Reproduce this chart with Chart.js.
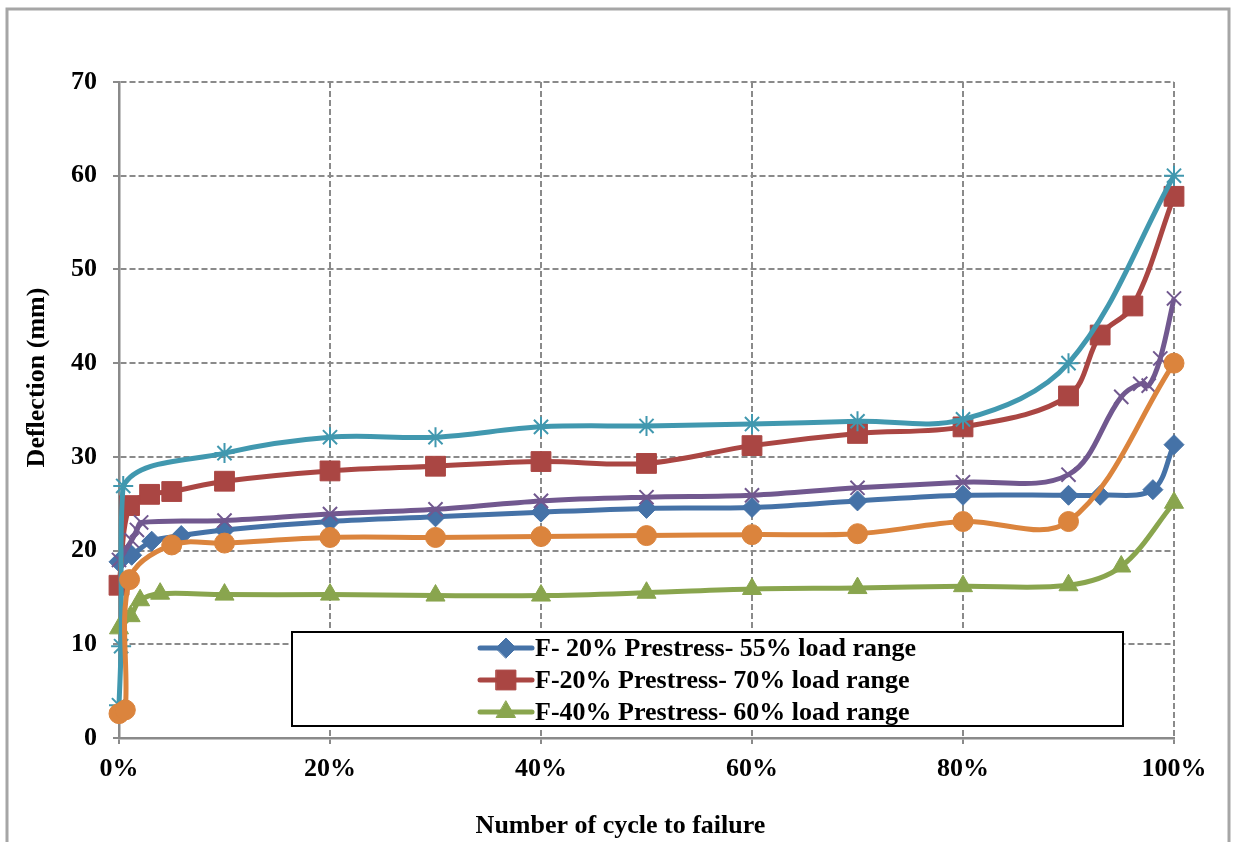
<!DOCTYPE html>
<html><head><meta charset="utf-8">
<script src="https://cdn.jsdelivr.net/npm/chart.js@4.4.0/dist/chart.umd.min.js"></script>
<style>html,body{margin:0;padding:0;background:#fff;}#wrap{width:1236px;height:842px;}</style>
</head><body><div id="wrap"><canvas id="c" width="1236" height="842"></canvas></div>
<script>
// ---- data ----
const xTickValues = [0, 20, 40, 60, 80, 100];
const yTickValues = [0, 10, 20, 30, 40, 50, 60, 70];
const xTitle = 'Number of cycle to failure';
const yTitle = 'Deflection (mm)';
const legendLabels = ['F- 20% Prestress- 55% load range', 'F-20% Prestress- 70% load range', 'F-40% Prestress- 60% load range'];
const seriesNames = ['F- 20% Prestress- 55% load range', 'F-20% Prestress- 70% load range', 'F-40% Prestress- 60% load range', 'Series 4', 'Series 5', 'Series 6'];

const xBlue = [0, 1.2, 3.1, 5.9, 10, 20, 30, 40, 50, 60, 70, 80, 90, 93, 98, 100];
const yBlue = [18.8, 19.5, 21.0, 21.6, 22.2, 23.1, 23.6, 24.1, 24.5, 24.6, 25.3, 25.9, 25.9, 25.9, 26.5, 31.3];

const xRed = [0, 1, 2.9, 5, 10, 20, 30, 40, 50, 60, 70, 80, 90, 93, 96.1, 100];
const yRed = [16.3, 24.8, 26.0, 26.3, 27.4, 28.5, 29.0, 29.5, 29.3, 31.2, 32.5, 33.2, 36.5, 43.0, 46.1, 57.8];

const xGreen = [0, 1.1, 2, 3.9, 10, 20, 30, 40, 50, 60, 70, 80, 90, 95, 100];
const yGreen = [11.7, 13.0, 14.7, 15.4, 15.3, 15.3, 15.2, 15.2, 15.5, 15.9, 16.0, 16.2, 16.3, 18.3, 25.1];

const xPurple = [0, 1.2, 1.7, 2.1, 10, 20, 30, 40, 50, 60, 70, 80, 90, 95, 96.8, 97.6, 98.7, 100];
const yPurple = [19.0, 21.1, 22.2, 23.0, 23.2, 23.9, 24.4, 25.3, 25.7, 25.9, 26.7, 27.3, 28.1, 36.4, 37.8, 37.6, 40.5, 46.9];

const xCyan = [0, 0.2, 0.4, 10, 20, 30, 40, 50, 60, 70, 80, 90, 100];
const yCyan = [3.5, 9.8, 26.9, 30.4, 32.1, 32.1, 33.2, 33.3, 33.5, 33.8, 34.0, 40.0, 60.0];

const xOrange = [0, 0.6, 1.0, 5, 10, 20, 30, 40, 50, 60, 70, 80, 90, 100];
const yOrange = [2.6, 3.0, 16.9, 20.6, 20.8, 21.4, 21.4, 21.5, 21.6, 21.7, 21.8, 23.1, 23.1, 40.0];

// ---- build ----
const pts = (xs, ys) => xs.map((x, i) => ({x: x, y: ys[i]}));
const FONT = "'Liberation Serif', 'Times New Roman', serif";
const FS = 26;
const GRID = '#8a8a8a';
const NB = '\u00a0';

function ds(name, xs, ys, color, style, radius, filled, order) {
  return {
    label: name, data: pts(xs, ys), borderColor: color, backgroundColor: color,
    pointBackgroundColor: filled ? color : 'rgba(0,0,0,0)', pointBorderColor: color,
    pointStyle: style, pointRadius: radius, pointHoverRadius: radius,
    pointBorderWidth: filled ? 1 : 2, borderWidth: 5, tension: 0.35,
    fill: false, clip: false, order: order
  };
}

const datasets = [
  ds(seriesNames[0], xBlue, yBlue, '#4572A7', 'rectRot', 10, true, 6),
  ds(seriesNames[1], xRed, yRed, '#AA4643', 'rect', 14, true, 5),
  ds(seriesNames[2], xGreen, yGreen, '#89A54E', 'triangle', 11, true, 4),
  ds(seriesNames[3], xPurple, yPurple, '#71588F', 'crossRot', 10, false, 3),
  ds(seriesNames[4], xCyan, yCyan, '#4198AF', 'star', 10, false, 2),
  ds(seriesNames[5], xOrange, yOrange, '#DB843D', 'circle', 10, true, 1)
];

const framePlugin = {
  id: 'frame',
  beforeDraw(chart) {
    const c = chart.ctx;
    c.save();
    c.fillStyle = '#fff';
    c.fillRect(0, 0, chart.width, chart.height);
    c.strokeStyle = '#a6a6a6';
    c.lineWidth = 3;
    c.strokeRect(7, 9, 1222, 860);
    c.restore();
  }
};

const legendPlugin = {
  id: 'boxLegend',
  afterDatasetsDraw(chart) {
    const c = chart.ctx;
    c.save();
    c.fillStyle = '#fff';
    c.fillRect(292, 632, 831, 94);
    c.strokeStyle = '#000';
    c.lineWidth = 2;
    c.strokeRect(292, 632, 831, 94);
    legendLabels.forEach((t, i) => {
      const d = chart.data.datasets[i];
      const y = 648 + i * 32;
      c.strokeStyle = d.borderColor;
      c.lineWidth = 5;
      c.lineCap = 'round';
      c.beginPath(); c.moveTo(480, y); c.lineTo(532, y); c.stroke();
      c.fillStyle = d.pointBackgroundColor;
      c.strokeStyle = d.pointBorderColor;
      c.lineWidth = d.pointBorderWidth;
      Chart.helpers.drawPoint(c, {pointStyle: d.pointStyle, radius: d.pointRadius, borderWidth: d.pointBorderWidth, rotation: 0}, 506, y);
      c.fillStyle = '#000';
      c.font = 'bold ' + FS + 'px ' + FONT;
      c.textAlign = 'left';
      c.textBaseline = 'middle';
      c.fillText(t, 535, y + 1);
    });
    c.restore();
  }
};

new Chart(document.getElementById('c'), {
  type: 'line',
  data: {datasets: datasets},
  plugins: [framePlugin, legendPlugin],
  options: {
    responsive: false,
    animation: false,
    events: [],
    layout: {padding: {top: 82, right: 62, left: 0, bottom: 0}},
    plugins: {legend: {display: false}, tooltip: {enabled: false}},
    scales: {
      x: {
        type: 'linear', min: 0, max: 100,
        afterBuildTicks: (s) => { s.ticks = xTickValues.map(v => ({value: v})); },
        afterFit: (s) => { s.height = 104; },
        ticks: {color: '#000', padding: 10, maxRotation: 0, font: {family: FONT, size: FS, weight: 'bold'}, callback: (v) => v + '%'},
        grid: {color: GRID, lineWidth: 2, tickLength: 6, tickColor: GRID, tickWidth: 2},
        border: {color: GRID, width: 2.5, dash: [6, 3]},
        title: {display: true, text: xTitle + NB.repeat(8), color: '#000', padding: {top: 0, bottom: 0}, font: {family: FONT, size: FS, weight: 'bold'}}
      },
      y: {
        type: 'linear', min: 0, max: 70,
        afterBuildTicks: (s) => { s.ticks = yTickValues.map(v => ({value: v})); },
        afterFit: (s) => { s.width = 119; },
        ticks: {color: '#000', padding: 16, font: {family: FONT, size: FS, weight: 'bold'}},
        grid: {color: GRID, lineWidth: 2, tickLength: 6, tickColor: GRID, tickWidth: 2},
        border: {color: GRID, width: 2.5, dash: [6, 3]},
        title: {display: true, text: NB.repeat(10) + yTitle, color: '#000', padding: {top: 22, bottom: 0}, font: {family: FONT, size: FS, weight: 'bold'}}
      }
    }
  }
});
</script></body></html>
